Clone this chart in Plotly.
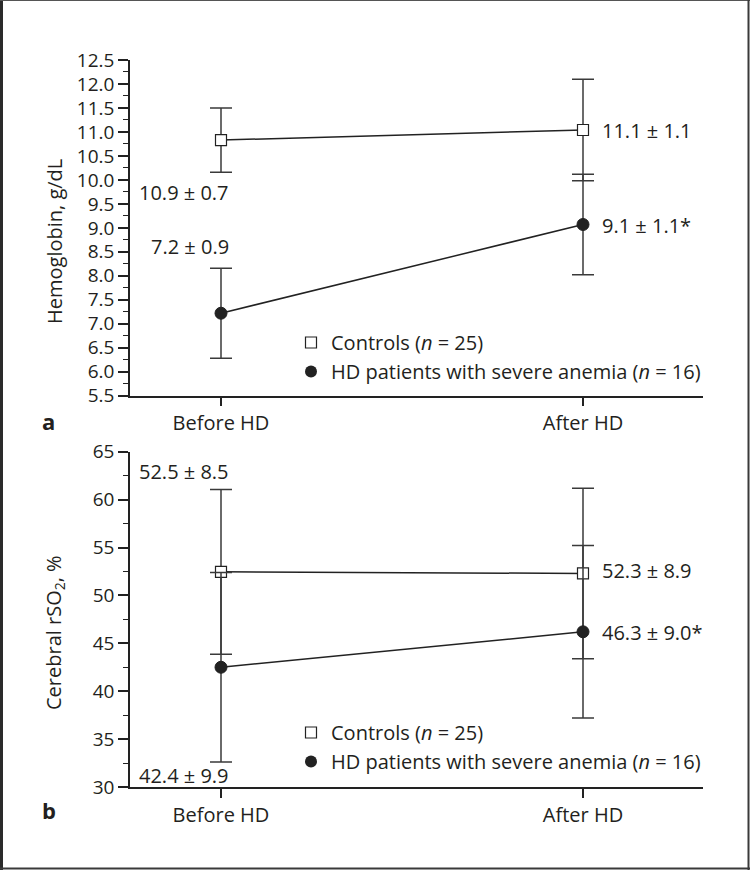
import plotly.graph_objects as go

# ---------------- data ----------------
categories = ["Before HD", "After HD"]

hb_controls = [10.83, 11.04]
hb_controls_sd = [0.67, 1.06]
hb_patients = [7.22, 9.07]
hb_patients_sd = [0.94, 1.05]

rso2_controls = [52.46, 52.29]
rso2_controls_sd = [8.6, 8.9]
rso2_patients = [42.5, 46.2]
rso2_patients_sd = [9.9, 9.0]

hb_labels_left = ["10.9 ± 0.7", "7.2 ± 0.9"]
hb_labels_right = ["11.1 ± 1.1", "9.1 ± 1.1*"]
rso2_labels_left = ["52.5 ± 8.5", "42.4 ± 9.9"]
rso2_labels_right = ["52.3 ± 8.9", "46.3 ± 9.0*"]

legend_controls = "Controls (<i>n</i> = 25)"
legend_patients = "HD patients with severe anemia (<i>n</i> = 16)"

# ---------------- layout helpers ----------------
W, H = 750, 870
ML, MR, MT, MB = 130, 47, 60, 83
PW, PH = W - ML - MR, H - MT - MB


def px(x):
    return (x - ML) / PW


def py(y):
    return (H - MB - y) / PH


FONT = "Open Sans"
TXT = "#231f20"
DARK = "#222222"
FS = 20
TFS = 19

fig = go.Figure()


def add_panel(xa, ya, ctrl, ctrl_sd, pat, pat_sd, legend):
    fig.add_trace(go.Scatter(
        x=categories, y=ctrl, xaxis=xa, yaxis=ya, mode="lines+markers",
        line=dict(color=DARK, width=1.5),
        marker=dict(symbol="square", size=11, color="white",
                    line=dict(color=DARK, width=1.2)),
        error_y=dict(type="data", array=ctrl_sd, visible=True,
                     color="#3a3a3a", thickness=1.5, width=11),
        showlegend=False, hoverinfo="skip"))
    fig.add_trace(go.Scatter(
        x=categories, y=pat, xaxis=xa, yaxis=ya, mode="lines+markers",
        line=dict(color=DARK, width=1.5),
        marker=dict(symbol="circle", size=12, color=DARK,
                    line=dict(color=DARK, width=1)),
        error_y=dict(type="data", array=pat_sd, visible=True,
                     color="#3a3a3a", thickness=1.5, width=11),
        showlegend=False, hoverinfo="skip"))
    # legend-only entries (markers only)
    fig.add_trace(go.Scatter(
        x=[None], y=[None], xaxis=xa, yaxis=ya, mode="markers",
        marker=dict(symbol="square", size=11, color="white",
                    line=dict(color=DARK, width=1.2)),
        name=legend_controls, legend=legend, showlegend=True))
    fig.add_trace(go.Scatter(
        x=[None], y=[None], xaxis=xa, yaxis=ya, mode="markers",
        marker=dict(symbol="circle", size=12, color=DARK),
        name=legend_patients, legend=legend, showlegend=True))


add_panel("x", "y", hb_controls, hb_controls_sd, hb_patients, hb_patients_sd, "legend")
add_panel("x2", "y2", rso2_controls, rso2_controls_sd, rso2_patients, rso2_patients_sd, "legend2")

xrange = [-(221 - ML) / 362, (ML + PW - 221) / 362]

axis_common = dict(
    showline=True, linecolor=DARK, linewidth=1.5, ticks="outside",
    tickcolor=DARK, tickwidth=1.5, showgrid=False, zeroline=False,
    tickfont=dict(family=FONT, size=TFS, color=TXT),
)

xaxis_common = dict(axis_common, type="category", range=xrange, ticklen=9,
                    domain=[0, 1])
xaxis_common["tickfont"] = dict(family=FONT, size=FS, color=TXT)

layout_axes = dict(
    xaxis=dict(xaxis_common, anchor="y"),
    xaxis2=dict(xaxis_common, anchor="y2"),
    yaxis=dict(axis_common, anchor="x", domain=[py(395.7), 1.0],
               range=[5.5, 12.5], dtick=0.5, tick0=5.5, tickformat=".1f",
               ticklen=10,
               minor=dict(dtick=0.25, ticks="outside", ticklen=5,
                          tickcolor=DARK, tickwidth=1.2)),
    yaxis2=dict(axis_common, anchor="x2", domain=[0.0, py(451.7)],
                range=[30, 65], dtick=5, tick0=30, ticklen=10,
                minor=dict(dtick=2.5, ticks="outside", ticklen=5,
                           tickcolor=DARK, tickwidth=1.2)),
)

annotations = []


def ann(text, x, y, xanchor="center", **kw):
    d = dict(text=text, x=px(x), y=py(y), xref="paper", yref="paper",
             xanchor=xanchor, yanchor="middle", showarrow=False,
             font=dict(family=FONT, size=FS, color=TXT))
    d.update(kw)
    annotations.append(d)


# value labels
ann(hb_labels_left[0], 184, 192.7)
ann(hb_labels_left[1], 190, 246.7)
ann(hb_labels_right[0], 600, 130.7, xanchor="left")
ann(hb_labels_right[1], 600, 225, xanchor="left")
ann(rso2_labels_left[0], 184, 471.7)
ann(rso2_labels_left[1], 184, 775)
ann(rso2_labels_right[0], 600, 570, xanchor="left")
ann(rso2_labels_right[1], 600, 632.7, xanchor="left")

# axis titles
ann("Hemoglobin, g/dL", 54, 242, textangle=-90)
ann("Cerebral rSO<sub>2</sub>, %", 54, 633, textangle=-90)

# panel letters
ann("<b>a</b>", 48.5, 421, font=dict(family=FONT, size=22, color=TXT))
ann("<b>b</b>", 48.5, 810, font=dict(family=FONT, size=22, color=TXT))

# frame around the figure
shapes = []
for (x0, y0, x1, y1, w, c) in [
    (1.5, 0, 1.5, H, 3, "#2a2a2a"),
    (0, 0.5, W, 0.5, 1, "#555555"),
    (W - 1.5, 0, W - 1.5, H, 2, "#3a3a3a"),
    (0, H - 1.5, W, H - 1.5, 2, "#3a3a3a"),
]:
    shapes.append(dict(type="line", xref="paper", yref="paper",
                       x0=px(x0), x1=px(x1), y0=py(y0), y1=py(y1),
                       line=dict(color=c, width=w), layer="above"))

legend_common = dict(
    xanchor="left", yanchor="top", bgcolor="rgba(0,0,0,0)", borderwidth=0,
    font=dict(family=FONT, size=FS, color=TXT), itemsizing="trace",
    tracegroupgap=0,
)

fig.update_layout(
    width=W, height=H,
    margin=dict(l=ML, r=MR, t=MT, b=MB),
    paper_bgcolor="white", plot_bgcolor="white",
    font=dict(family=FONT, size=FS, color=TXT),
    annotations=annotations,
    shapes=shapes,
    legend=dict(legend_common, x=px(291), y=py(323)),
    legend2=dict(legend_common, x=px(291), y=py(713)),
    **layout_axes,
)

fig.write_html(
    "out.html",
    config=dict(displayModeBar=False),
    post_script="document.body.style.margin='0';document.body.style.overflow='hidden';",
)
